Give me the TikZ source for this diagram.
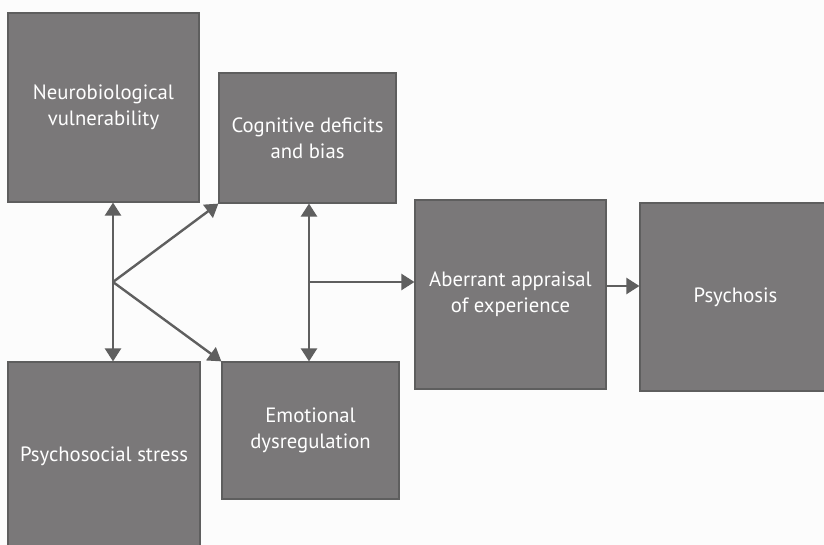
\documentclass[tikz,border=0pt]{standalone}
\usepackage{fontspec}
\setmainfont{PT Sans}
\usepackage{xcolor}
\definecolor{boxfill}{HTML}{7A7879}
\definecolor{boxline}{HTML}{5E5E5E}
\definecolor{arrowc}{HTML}{5F5F5F}
\usepackage{tikz}
\usetikzlibrary{arrows.meta,positioning,calc}

\begin{document}
\begin{tikzpicture}[x=1pt,y=-1pt,
  box/.style={draw=boxline,line width=1.2pt,fill=boxfill,text=white,align=center,
    inner sep=0pt,font=\fontsize{20.7}{26}\selectfont},
  link/.style={draw=arrowc,line width=2.4pt,-{Triangle[length=13pt,width=16pt]}}]
\useasboundingbox (0,0) rectangle (824,545);
\clip (0,0) rectangle (824,545);
\fill[white!99!black] (0,0) rectangle (824,545);
% boxes
\node[box,minimum width=191pt,minimum height=189pt] (neuro) at (103.5,107.5) {Neurobiological\\vulnerability};
\node[box,minimum width=177pt,minimum height=130pt] (cog) at (307.5,138) {Cognitive deficits\\and bias};
\node[box,minimum width=192pt,minimum height=189pt] (stress) at (104,456.5) {Psychosocial stress};
\node[box,minimum width=177pt,minimum height=137pt] (emo) at (310.5,430.5) {Emotional\\dysregulation};
\node[box,minimum width=191pt,minimum height=189pt] (aber) at (510.5,294.5) {Aberrant appraisal\\of experience};
\node[box,minimum width=191pt,minimum height=188pt] (psy) at (735.5,297) {Psychosis};
% junctions
\coordinate (j1) at (113,282);
\coordinate (j2) at (309,282);
% arrows
\draw[link] (j1) -- (j1 |- neuro.south);
\draw[link] (j1) -- (j1 |- stress.north);
\draw[link] (j1) -- (cog.south west);
\draw[link] (j1) -- (emo.north west);
\draw[link] (j2) -- (j2 |- cog.south);
\draw[link] (j2) -- (j2 |- emo.north);
\draw[link] (j2) -- (j2 -| aber.west);
\draw[link] ([yshift=8.5pt]aber.east) -- ([yshift=8.5pt]aber.east -| psy.west);
\end{tikzpicture}
\end{document}
